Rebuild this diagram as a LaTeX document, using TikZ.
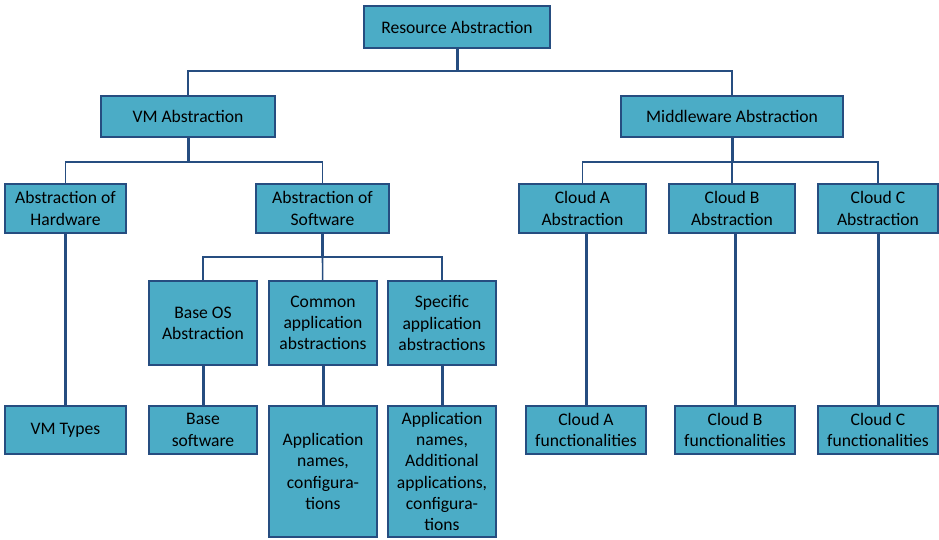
\documentclass[tikz,border=0pt]{standalone}
\usepackage{fontspec}
\setmainfont{Carlito}
\usetikzlibrary{positioning}
\definecolor{boxfill}{RGB}{75,172,198}
\definecolor{boxline}{RGB}{38,77,128}
\begin{document}
\begin{tikzpicture}[x=1pt,y=-1pt,
			every node/.style = {shape=rectangle, draw=boxline, fill=boxfill,
				line width=1.6pt, align=center, inner sep=0pt,
				font=\fontsize{17.6}{21.2}\selectfont},
			bus/.style = {draw=boxline, line width=1.6pt},
			stem/.style = {draw=boxline, line width=3pt}]
			\useasboundingbox (0,0) rectangle (939,540);
			% top levels
			\node[minimum width=186pt, minimum height=42pt] (root) at (457,27) {Resource Abstraction};
			\node[minimum width=174pt, minimum height=41pt] (vm) at (188,116.5) {VM Abstraction};
			\node[minimum width=222pt, minimum height=41pt] (mw) at (732,116.5) {Middleware Abstraction};
			\node[minimum width=121pt, minimum height=49pt] (hw) at (65.5,208.5) {Abstraction of\\Hardware};
			\node[minimum width=133pt, minimum height=49pt] (sw) at (322.5,208.5) {Abstraction of\\Software};
			\node[minimum width=127pt, minimum height=49pt] (ca) at (582.5,208.5) {Cloud A\\Abstraction};
			\node[minimum width=126pt, minimum height=49pt] (cb) at (732,208.5) {Cloud B\\Abstraction};
			\node[minimum width=120pt, minimum height=49pt] (cc) at (878,208.5) {Cloud C\\Abstraction};
			% software children
			\node[minimum width=108pt, minimum height=84pt] (os) at (203,323) {Base OS\\Abstraction};
			\node[minimum width=108pt, minimum height=84pt] (common) at (323,323) {Common\\application\\abstractions};
			\node[minimum width=108pt, minimum height=84pt] (specific) at (442,323) {Specific\\application\\abstractions};
			% leaves
			\node[minimum width=121pt, minimum height=48pt] (vmtypes) at (65.5,430) {VM Types};
			\node[minimum width=108pt, minimum height=48pt] (basesw) at (203,430) {Base\\software};
			\node[minimum width=108pt, minimum height=131pt] (appnames) at (323,471.5) {Application\\names,\\configura-\\tions};
			\node[minimum width=108pt, minimum height=131pt] (addapps) at (442,471.5) {Application\\names,\\Additional\\applications,\\configura-\\tions};
			\node[minimum width=120pt, minimum height=48pt] (fa) at (586,430) {Cloud A\\functionalities};
			\node[minimum width=120pt, minimum height=48pt] (fb) at (735,430) {Cloud B\\functionalities};
			\node[minimum width=120pt, minimum height=48pt] (fc) at (878,430) {Cloud C\\functionalities};
			% connectors
			\coordinate (j0) at (457,71);
			\coordinate (j1) at (188,162);
			\coordinate (j2) at (732,162);
			\coordinate (j3) at (322.5,257);
			\draw[stem] (root) -- (j0);
			\draw[bus] (vm) |- (j0) -| (mw);
			\draw[stem] (vm) -- (j1);
			\draw[bus] (hw) |- (j1) -| (sw);
			\draw[stem] (mw) -- (j2);
			\draw[bus] (ca) |- (j2) -| (cc);
			\draw[bus] (cb) -- (j2);
			\draw[stem] (sw) -- (j3);
			\draw[bus] (os) |- (j3) -| (specific);
			\draw[bus] (common) -- (j3);
			\draw[stem] (hw) -- (vmtypes);
			\draw[stem] (os) -- (basesw);
			\draw[stem] (common) -- (appnames);
			\draw[stem] (specific) -- (addapps);
			\draw[stem] (ca.south -| fa) -- (fa);
			\draw[stem] (cb.south -| fb) -- (fb);
			\draw[stem] (cc) -- (fc);
		\end{tikzpicture}
\end{document}
